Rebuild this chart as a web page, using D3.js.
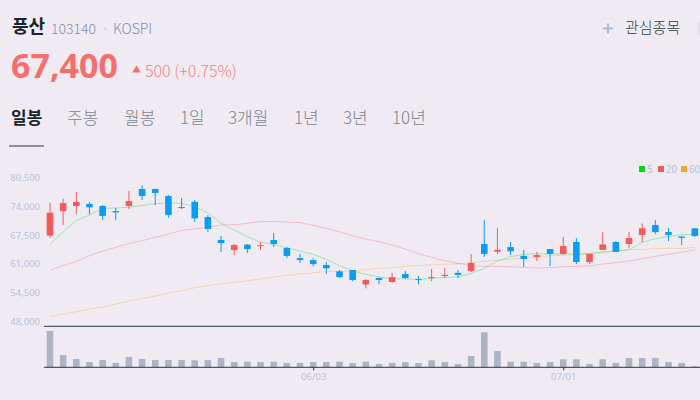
<!DOCTYPE html>
<html>
<head>
<meta charset="utf-8">
<script src="https://cdn.jsdelivr.net/npm/d3@7"></script>
<style>
  html, body { margin: 0; padding: 0; background: #f0ebf2; overflow: hidden; }
  svg { display: block; font-family: "Noto Sans CJK KR", "Noto Sans", sans-serif; }
</style>
</head>
<body>
<div class="canvas"></div>
<script>
const opens = [67400,72950,74100,74550,74100,72950,74100,77950,77950,76350,73850,75050,71600,66400,64150,65350,65050,66400,64600,62300,61850,60750,59300,59600,56350,57800,56900,58700,57550,57800,58250,58950,59400,65500,63750,64800,62800,62550,64350,63250,65950,61400,64150,65950,65500,67550,69800,68200,67200,69050];
const closes = [72600,74750,75000,73800,71850,72650,75200,76350,77050,72050,73650,71300,68900,65700,65250,64350,65250,65500,62800,61850,60950,60000,58000,57350,57350,57350,58000,57800,57350,58000,58500,58500,61200,63250,64150,63850,62100,63000,63250,65050,61400,63250,65400,63700,66850,69050,68200,67550,66900,67300];
const highs = [74850,75700,77250,75000,74300,73650,77500,78700,77950,76600,75900,75450,72050,67300,65500,65500,65950,68000,64800,63250,62300,61400,59600,59600,57500,57950,58950,59400,58250,59850,60050,59600,63250,70900,69100,65950,64150,63700,64350,67100,66850,63250,68200,66150,68200,70150,70900,69100,67300,69100];
const lows = [66900,69800,72200,72200,70900,70900,73400,75450,74300,71400,73400,70450,68200,63700,63000,63450,64150,64800,62300,61200,60500,58700,57800,57100,55450,56350,56650,57550,56350,57100,57800,57800,59150,62550,63250,63000,60300,61650,60500,63000,60950,60950,64150,63700,64600,65950,67750,66150,65250,67100];
const volumes = [1090,370,250,160,220,130,310,250,220,220,220,210,220,280,160,170,160,170,130,130,160,160,170,130,170,100,130,160,130,210,160,100,340,1050,490,170,170,130,160,240,240,100,240,130,280,280,280,160,130,30];

const ma5 = [65420,68280,70850,72060,73560,73640,73790,74240,74620,74770,74700,73940,72580,70170,68660,67150,65870,65420,64660,63910,63150,62020,60590,59380,58630,58020,57650,57570,57500,57720,57950,58020,58850,59980,61640,62630,63150,63300,63230,63300,63150,63300,63680,63980,64210,65870,66700,67230,67600,67680];
const ma20 = [59530,60590,61570,62850,63910,64740,65570,66250,67000,67750,68580,68890,69260,69790,69870,70170,70550,70620,70470,70320,69720,69040,68280,67380,66620,66020,65270,64360,63300,62480,61720,61120,60590,60440,60440,60360,60210,60060,60140,60360,60440,60510,60970,61270,61640,62170,62700,63150,63610,64130];
const ma60 = [49050,49650,50180,50780,51230,51910,52590,53200,53720,54400,54930,55610,56060,56440,56820,57190,57570,58020,58400,58700,59000,59230,59310,59380,59680,59980,60140,60440,60660,60740,60890,61040,61270,61570,61800,62100,62400,62550,62850,62930,63150,63380,63610,63910,64210,64290,64440,64510,64510,64740];

const priceTicks = [48000,54500,61000,67500,74000,80500];
const dateLabels = { 20: "06/03", 39: "07/01" };
const tabNames = ["일봉","주봉","월봉","1일","3개월","1년","3년","10년"];
const tabX = [11,67,124,180,228,294,343,392];
const maLegend = [["5","#00d81b"],["20","#f55a5a"],["60","#f5a623"]];

const red = "#f55a5a", blue = "#0a9cf5", muted = "#b6c2da", dark = "#26393a";

const svg = d3.select(".canvas").append("svg").attr("width", 700).attr("height", 400);

// header
let addText = (x, y, str, size, fill, weight) =>
  svg.append("text").attr("x", x).attr("y", y).text(str)
    .style("font-size", size + "px").style("fill", fill).style("font-weight", weight || 300);

addText(12, 33, "풍산", 18, "#17262b", 700);
addText(51, 34, "103140", 14, "#7f90a8");
svg.append("circle").attr("cx", 105.5).attr("cy", 29).attr("r", 1.5).attr("fill", "#cdd5e4");
addText(113, 34, "KOSPI", 14, "#7f90a8");
addText(11, 78, "67,400", 34, "#f66e6e", 700).style("font-family", "'Noto Sans', sans-serif");
svg.append("path").attr("d", d3.symbol(d3.symbolTriangle, 30)()).attr("transform", "translate(136.5,70)").attr("fill", "#f66e6e");
addText(145, 77, "500 (+0.75%)", 16, "#f6808c");

tabNames.forEach((name, i) => {
  addText(tabX[i], 124, name, 17, i == 0 ? "#17262b" : "#7d8690", i == 0 ? 700 : 300);
});
svg.append("line").attr("x1", 9).attr("x2", 44).attr("y1", 146).attr("y2", 146).attr("stroke", dark);

// watchlist button
svg.append("circle").attr("cx", 608).attr("cy", 28.5).attr("r", 10.5).attr("fill", "none").attr("stroke", "#ebe8ef");
svg.append("path").attr("d", "M603 28.5H613M608 23.5V33.5").attr("stroke", "#a9bcd8").attr("stroke-width", 2);
addText(625, 33, "관심종목", 15, "#2f3d44");
svg.append("rect").attr("x", 698).attr("y", 22).attr("width", 2).attr("height", 13).attr("fill", "#dcdde6");

// legend
let legendX = [639, 658, 681];
maLegend.forEach((m, i) => {
  svg.append("rect").attr("x", legendX[i]).attr("y", 166).attr("width", 6).attr("height", 6).attr("fill", m[1]);
  addText(legendX[i] + 8, 172.5, m[0], 10, muted, 400);
});

// scales
let xScale = d3.scaleBand().domain(d3.range(opens.length)).range([43.4, 701.4]).paddingInner(0.5).paddingOuter(0.25);
let yScale = d3.scaleLinear().domain([48000, 80500]).range([321.3, 177.7]);
let volScale = d3.scaleLinear().domain([0, 1230]).range([367.3, 326.3]);
let cx = (i) => xScale(i) + xScale.bandwidth() / 2;

// price axis
let yAxis = svg.append("g").attr("transform", "translate(41,0)")
  .call(d3.axisLeft(yScale).tickValues(priceTicks).tickSize(0).tickPadding(1).tickFormat(d3.format(",")));
yAxis.select(".domain").remove();
yAxis.selectAll("text").style("font-size", "9.5px").style("fill", muted).style("font-family", "'Noto Sans', sans-serif");

// moving averages
let line = d3.line().x((d, i) => cx(i)).y((d) => yScale(d));
[[ma60, "#f5a623", 0.34], [ma20, "#f0668c", 0.36], [ma5, "#1fd651", 0.38]].forEach((m) => {
  svg.append("path").attr("d", line(m[0])).attr("fill", "none").attr("stroke", m[1]).attr("stroke-width", 1).attr("opacity", m[2]);
});

// candles
let candleColor = (i) => (closes[i] >= opens[i] ? red : blue);
svg.selectAll(".wick").data(d3.range(opens.length)).join("line")
  .attr("class", "wick")
  .attr("x1", cx).attr("x2", cx)
  .attr("y1", (i) => yScale(highs[i])).attr("y2", (i) => yScale(lows[i]))
  .attr("stroke", candleColor).attr("stroke-width", 1);
svg.selectAll(".body").data(d3.range(opens.length)).join("rect")
  .attr("class", "body")
  .attr("x", (i) => xScale(i)).attr("width", xScale.bandwidth())
  .attr("y", (i) => yScale(Math.max(opens[i], closes[i])))
  .attr("height", (i) => Math.max(1, Math.abs(yScale(opens[i]) - yScale(closes[i]))))
  .attr("fill", candleColor);

// volume
svg.selectAll(".vol").data(volumes).join("rect")
  .attr("class", "vol")
  .attr("x", (d, i) => xScale(i)).attr("width", xScale.bandwidth())
  .attr("y", (d) => volScale(d)).attr("height", (d) => volScale(0) - volScale(d))
  .attr("fill", "#aeb4c3");

let dateAxis = svg.append("g").attr("transform", "translate(0,367.3)")
  .call(d3.axisBottom(d3.scalePoint().domain(d3.range(opens.length)).range([cx(0), cx(opens.length - 1)]))
    .tickValues(Object.keys(dateLabels).map(Number)).tickSize(3).tickPadding(3).tickFormat((i) => dateLabels[i]));
dateAxis.select(".domain").remove();
dateAxis.selectAll("line").attr("stroke", dark);
dateAxis.selectAll("text").style("font-size", "9.5px").style("fill", muted).style("font-family", "'Noto Sans', sans-serif");

// panel rules
[326.3, 367.3].forEach((y) => {
  svg.append("line").attr("x1", 44).attr("x2", 700).attr("y1", y).attr("y2", y).attr("stroke", dark);
});
</script>
</body>
</html>
